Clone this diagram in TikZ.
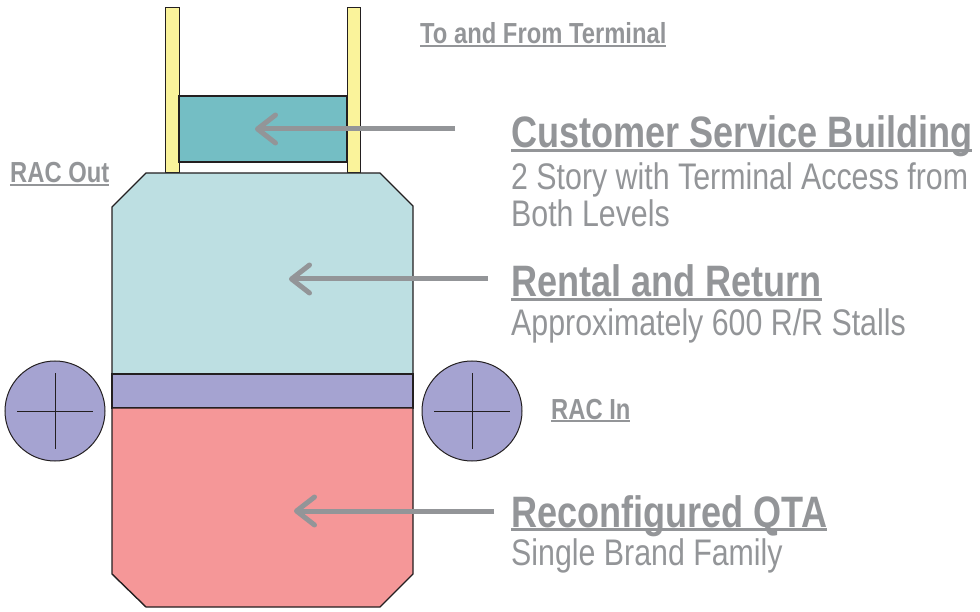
\documentclass[tikz,border=0pt]{standalone}
\usepackage{fontspec}
\setmainfont{Liberation Sans}[FakeStretch=0.82]
\usetikzlibrary{arrows.meta}

\definecolor{labelgray}{HTML}{939598}
\definecolor{outline}{HTML}{231F20}
\definecolor{poleyellow}{HTML}{FAF39B}
\definecolor{csbteal}{HTML}{74BEC4}
\definecolor{rrcyan}{HTML}{BDDFE2}
\definecolor{rampurple}{HTML}{A5A3D1}
\definecolor{qtapink}{HTML}{F59798}

% underline that keeps clear of the text depth
\newcommand\ulined[1]{\setbox0\hbox{#1}\rlap{\rule[-0.1em]{\wd0}{0.07em}}\box0}

\tikzset{
  bldg/.style={draw=outline,line width=1.4pt},
  callout/.style={draw=labelgray,line width=5pt,
    -{Straight Barb[length=18pt,width=28pt,round]}},
  heading/.style={text=labelgray,inner sep=0pt,anchor=base west,
    font=\fontsize{44}{48}\selectfont\bfseries},
  subtext/.style={text=labelgray,inner sep=0pt,anchor=base west,
    font=\fontsize{37}{40}\selectfont},
  tag/.style={text=labelgray,inner sep=0pt,anchor=base west,
    font=\fontsize{29}{32}\selectfont\bfseries},
}

\begin{document}
\begin{tikzpicture}[x=1pt,y=-1pt]
  \useasboundingbox (0,0) rectangle (980,612);
  % terminal walkways
  \draw[bldg,line width=1pt,fill=poleyellow] (165,8) rectangle (179,173);
  \draw[bldg,line width=1pt,fill=poleyellow] (347,8) rectangle (360,173);
  % customer service building
  \draw[bldg,fill=csbteal] (179,96) rectangle (347,162);
  % rental and return deck
  \draw[bldg,fill=rrcyan] (112,374) -- (112,207) -- (146,173) -- (380,173)
    -- (413,206) -- (413,374) -- cycle;
  \draw[bldg,fill=rampurple] (112,374) rectangle (413,408);
  % QTA
  \draw[bldg,fill=qtapink] (112,408) -- (112,574) -- (146,607) -- (380,607)
    -- (413,574) -- (413,408) -- cycle;
  % ramps
  \foreach \cx in {55,472} {
    \draw[bldg,line width=1pt,fill=rampurple] (\cx,411) circle (50);
    \draw[outline,line width=1pt] (\cx-38,411) -- (\cx+38,411)
      (\cx,373) -- (\cx,449);
  }
  % labels
  \node[tag] (terminal) at (420,44) {\ulined{To and From Terminal}};
  \node[tag] (racout) at (10,183) {\ulined{RAC Out}};
  \node[tag] (racin) at (551,419) {\ulined{RAC In}};
  \node[heading] (csb) at (511,148) {\ulined{Customer Service Building}};
  \node[subtext] (csbone) at (511,190) {2 Story with Terminal Access from};
  \node[subtext] (csbtwo) at (511,227) {Both Levels};
  \node[heading] (rr) at (511,297) {\ulined{Rental and Return}};
  \node[subtext] (rrone) at (511,335) {Approximately 600 R/R Stalls};
  \node[heading] (qta) at (511,527) {\ulined{Reconfigured QTA}};
  \node[subtext] (qtaone) at (511,565) {Single Brand Family};
  % callout arrows
  \coordinate (csbfrom) at (455,129);
  \coordinate (csbto) at (255,129);
  \coordinate (rrfrom) at (488,279);
  \coordinate (rrto) at (289,279);
  \coordinate (qtafrom) at (494,511);
  \coordinate (qtato) at (294,511);
  \draw[callout] (csbfrom) -- (csbto);
  \draw[callout] (rrfrom) -- (rrto);
  \draw[callout] (qtafrom) -- (qtato);
\end{tikzpicture}
\end{document}
